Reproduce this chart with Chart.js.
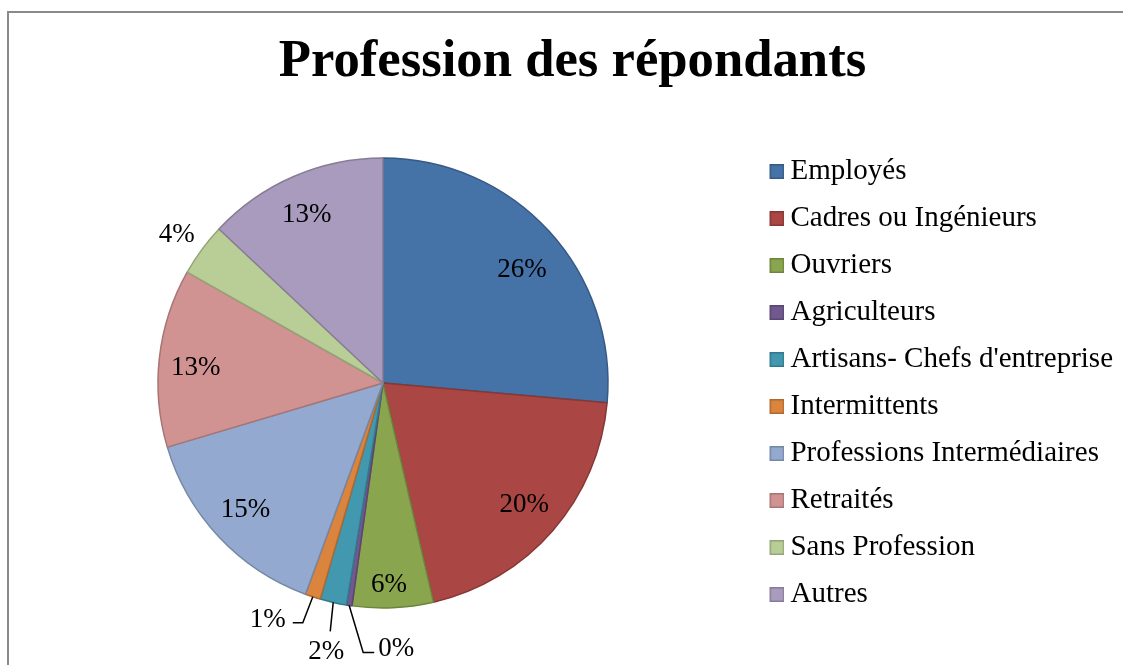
<!DOCTYPE html>
<html lang="fr">
<head>
<meta charset="utf-8">
<title>Profession des répondants</title>
<script src="https://cdn.jsdelivr.net/npm/chart.js@4/dist/chart.umd.min.js"></script>
<style>
  html, body { margin: 0; padding: 0; background: #ffffff; width: 1123px; height: 665px; overflow: hidden; }
  #frame { position: absolute; left: 7px; top: 11px; width: 1200px; height: 700px;
           border-left: 2px solid #8a8a8a; border-top: 2px solid #8a8a8a; }
  #c { position: absolute; left: 0; top: 0; }
</style>
</head>
<body>
<div id="frame"></div>
<canvas id="c" width="1123" height="665"></canvas>
<script>
// ---- data ----
const chartTitle = "Profession des répondants";
const categories = [
  "Employés",
  "Cadres ou Ingénieurs",
  "Ouvriers",
  "Agriculteurs",
  "Artisans- Chefs d'entreprise",
  "Intermittents",
  "Professions Intermédiaires",
  "Retraités",
  "Sans Profession",
  "Autres"
];
const shares = [26.4, 20.0, 5.8, 0.4, 1.9, 1.1, 14.8, 12.8, 3.8, 13.0];

// ---- styles ----
const fillColors = ["#4572A7", "#AA4643", "#89A54E", "#71588F", "#4198AF",
                    "#DB843D", "#93A9CF", "#D19392", "#B9CD96", "#A99BBD"];
const edgeColors = ["#375A84", "#873835", "#6D843E", "#5A4672", "#33798B",
                    "#AF6930", "#7587A5", "#A77574", "#94A478", "#877C97"];
const serif = "'Liberation Serif', 'DejaVu Serif', serif";

// label placement (style): inside labels sit at a fraction of the radius, small slices get leader lines
const labelPlacement = [
  { r: 0.82, dx: 3, dy: 11 },
  { r: 0.82, dx: 2, dy: 1 },
  { r: 0.82, dx: -2, dy: 18 },
  { r: 1.0, line: [[0, 0], [14, 47], [25, 47]], dx: 47, dy: 43 },
  { r: 1.0, line: [[0, 0], [-3, 29]], dx: -7, dy: 49 },
  { r: 1.0, line: [[0, 0], [-10, 26], [-20, 26]], dx: -45, dy: 23 },
  { r: 0.82, dx: -3, dy: 1 },
  { r: 0.82, dx: -4, dy: 6 },
  { r: 1.0, dx: -25, dy: -15 },
  { r: 0.82, dx: -3, dy: 1 }
];

// legend swatch: a small square drawn at the right end of a wider transparent image
function makeSwatch(fill, edge) {
  const cv = document.createElement('canvas');
  cv.width = 31; cv.height = 15;
  const g = cv.getContext('2d');
  g.fillStyle = fill;
  g.fillRect(16, 0, 15, 15);
  g.strokeStyle = edge;
  g.lineWidth = 1.5;
  g.strokeRect(16.75, 0.75, 13.5, 13.5);
  return cv;
}
const swatches = fillColors.map((c, i) => makeSwatch(c, edgeColors[i]));

const pieLabels = {
  id: 'pieLabels',
  afterDatasetsDraw(chart) {
    const ctx = chart.ctx;
    const meta = chart.getDatasetMeta(0);
    const values = chart.data.datasets[0].data;
    const total = values.reduce((a, b) => a + b, 0);
    ctx.save();
    ctx.font = "27px " + serif;
    ctx.fillStyle = "#000";
    ctx.strokeStyle = "#000";
    ctx.lineWidth = 1.5;
    ctx.textAlign = "center";
    ctx.textBaseline = "middle";
    meta.data.forEach((arc, i) => {
      const p = arc.getProps(['x', 'y', 'startAngle', 'endAngle', 'outerRadius'], true);
      const mid = (p.startAngle + p.endAngle) / 2;
      const pl = labelPlacement[i];
      const bx = p.x + Math.cos(mid) * p.outerRadius * pl.r;
      const by = p.y + Math.sin(mid) * p.outerRadius * pl.r;
      if (pl.line) {
        ctx.beginPath();
        pl.line.forEach((pt, k) => {
          if (k === 0) ctx.moveTo(bx + pt[0], by + pt[1]);
          else ctx.lineTo(bx + pt[0], by + pt[1]);
        });
        ctx.stroke();
      }
      const txt = Math.round(values[i] / total * 100) + "%";
      ctx.fillText(txt, bx + pl.dx, by + pl.dy);
    });
    ctx.restore();
  }
};

new Chart(document.getElementById('c'), {
  type: 'pie',
  data: {
    labels: categories,
    datasets: [{
      data: shares,
      backgroundColor: fillColors,
      borderColor: edgeColors,
      borderWidth: 1.5,
      radius: 225
    }]
  },
  options: {
    responsive: false,
    devicePixelRatio: 1,
    animation: false,
    events: [],
    layout: { padding: { left: 22, right: 0, top: 0, bottom: 0 } },
    plugins: {
      title: {
        display: true,
        text: chartTitle,
        color: "#000",
        font: { family: serif, size: 52.7, weight: 'bold', lineHeight: 1.2 },
        padding: { top: 31, bottom: 6.8 }
      },
      legend: {
        display: true,
        position: 'right',
        fullSize: false,
        align: 'center',
        labels: {
          color: "#000",
          font: { family: serif, size: 29 },
          usePointStyle: true,
          pointStyleWidth: 14,
          boxWidth: 14,
          boxHeight: 14,
          padding: 18,
          generateLabels(chart) {
            const items = Chart.overrides.pie.plugins.legend.labels.generateLabels(chart);
            items.forEach((it, i) => { it.pointStyle = swatches[i]; });
            return items;
          }
        }
      },
      tooltip: { enabled: false }
    }
  },
  plugins: [pieLabels]
});
</script>
</body>
</html>
